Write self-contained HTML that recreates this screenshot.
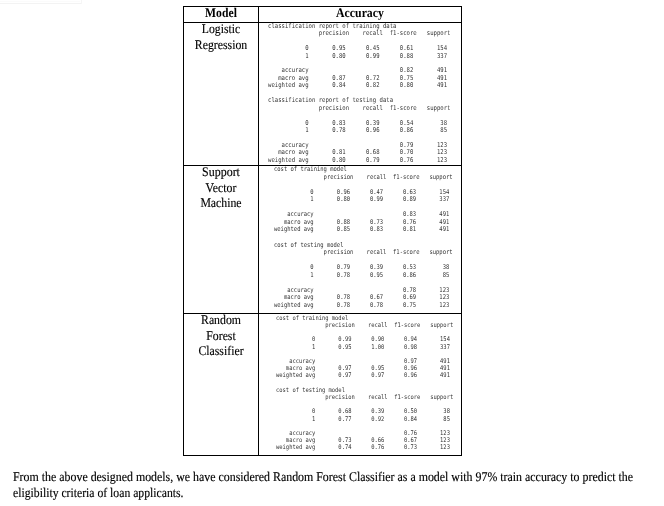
<!DOCTYPE html>
<html><head><meta charset="utf-8"><title>Model accuracy comparison</title>
<style>
html,body{margin:0;padding:0;background:#fff;}
body{width:664px;height:506px;position:relative;overflow:hidden;text-rendering:geometricPrecision;}
#w{position:absolute;left:0;top:0;width:664px;height:506px;filter:grayscale(1);}
.faint{position:absolute;left:0;top:3px;width:81px;height:1px;background:#f3f3f3;}
.faintv{position:absolute;left:81px;top:0;width:1px;height:4px;background:#f6f6f6;}
.h{position:absolute;left:183px;width:279px;height:1px;background:#000;}
.v{position:absolute;top:6px;height:450px;width:1px;background:#000;}
.lab,.labb{position:absolute;-webkit-text-stroke:0.15px #000;font-family:"Liberation Serif",serif;font-size:13.2px;line-height:15.5px;color:#000;white-space:nowrap;text-align:center;width:200px;transform-origin:50% 0;}
.labb{font-weight:bold;-webkit-text-stroke:0;}
.rep{position:absolute;margin:0;font-family:"DejaVu Sans Mono","Liberation Mono",monospace;color:#333;white-space:pre;transform-origin:0 0;}
.para{position:absolute;left:13px;-webkit-text-stroke:0.15px #000;font-family:"Liberation Serif",serif;font-size:13.2px;line-height:15.6px;color:#000;white-space:nowrap;transform-origin:0 0;}
</style></head><body><div id="w">
<div class="faint"></div><div class="faintv"></div><div style="position:absolute;left:0;top:1px;width:80px;height:1px;background:#fbfbfb"></div>
<div class="h" style="top:6px"></div>
<div class="h" style="top:22px"></div>
<div class="h" style="top:165px"></div>
<div class="h" style="top:313px"></div>
<div class="h" style="top:455px"></div>
<div class="v" style="left:183px"></div>
<div class="v" style="left:258px"></div>
<div class="v" style="left:461px"></div>
<div class="labb" style="left:121.00px;top:4.50px;transform:scaleX(0.8860)">Model</div>
<div class="labb" style="left:260.00px;top:4.50px;transform:scaleX(0.8940)">Accuracy</div>
<div class="lab" style="left:121.00px;top:20.50px;transform:scaleX(0.8860)">Logistic</div>
<div class="lab" style="left:121.00px;top:36.80px;transform:scaleX(0.8950)">Regression</div>
<div class="lab" style="left:121.00px;top:163.80px;transform:scaleX(0.9070)">Support</div>
<div class="lab" style="left:121.00px;top:179.50px;transform:scaleX(0.8930)">Vector</div>
<div class="lab" style="left:121.00px;top:195.10px;transform:scaleX(0.8930)">Machine</div>
<div class="lab" style="left:121.00px;top:312.20px;transform:scaleX(0.8930)">Random</div>
<div class="lab" style="left:121.00px;top:327.80px;transform:scaleX(0.8930)">Forest</div>
<div class="lab" style="left:121.00px;top:343.30px;transform:scaleX(0.8930)">Classifier</div>
<pre class="rep" style="left:268.30px;top:22.85px;font-size:6.600px;line-height:7.430px;transform:scaleX(0.8512)">classification report of training data
               precision    recall  f1-score   support

           0       0.95      0.45      0.61       154
           1       0.80      0.99      0.88       337

    accuracy                           0.82       491
   macro avg       0.87      0.72      0.75       491
weighted avg       0.84      0.82      0.80       491

classification report of testing data
               precision    recall  f1-score   support

           0       0.83      0.39      0.54        38
           1       0.78      0.96      0.86        85

    accuracy                           0.79       123
   macro avg       0.81      0.68      0.70       123
weighted avg       0.80      0.79      0.76       123</pre>
<pre class="rep" style="left:273.50px;top:166.20px;font-size:6.500px;line-height:7.530px;transform:scaleX(0.8449)">cost of training model
               precision    recall  f1-score   support

           0       0.96      0.47      0.63       154
           1       0.80      0.99      0.89       337

    accuracy                           0.83       491
   macro avg       0.88      0.73      0.76       491
weighted avg       0.85      0.83      0.81       491

cost of testing model
               precision    recall  f1-score   support

           0       0.79      0.39      0.53        38
           1       0.78      0.95      0.86        85

    accuracy                           0.78       123
   macro avg       0.78      0.67      0.69       123
weighted avg       0.78      0.78      0.75       123</pre>
<pre class="rep" style="left:276.15px;top:314.90px;font-size:6.400px;line-height:7.180px;transform:scaleX(0.8529)">cost of training model
               precision    recall  f1-score   support

           0       0.99      0.90      0.94       154
           1       0.95      1.00      0.98       337

    accuracy                           0.97       491
   macro avg       0.97      0.95      0.96       491
weighted avg       0.97      0.97      0.96       491

cost of testing model
               precision    recall  f1-score   support

           0       0.68      0.39      0.50        38
           1       0.77      0.92      0.84        85

    accuracy                           0.76       123
   macro avg       0.73      0.66      0.67       123
weighted avg       0.74      0.76      0.73       123</pre>
<div class="para" style="top:469.00px;transform:scaleX(0.9020)">From the above designed models, we have considered Random Forest Classifier as a model with 97% train accuracy to predict the</div>
<div class="para" style="top:485.40px;transform:scaleX(0.8870)">eligibility criteria of loan applicants.</div>
</div></body></html>
